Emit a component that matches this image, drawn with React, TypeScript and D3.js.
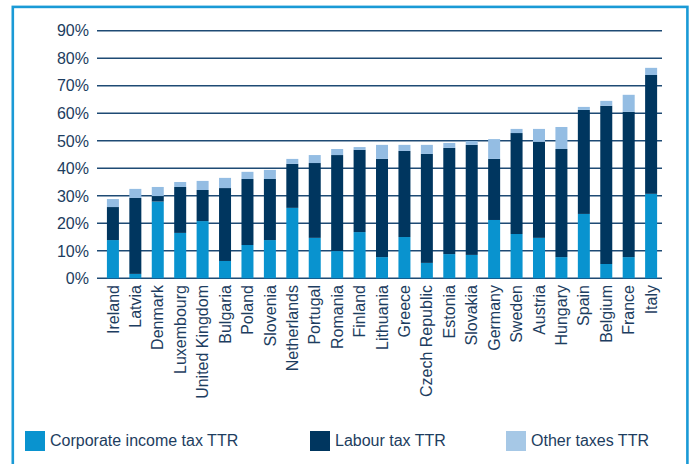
import React from "react";
import * as d3 from "d3";

const countries = [
  "Ireland", "Latvia", "Denmark", "Luxembourg", "United Kingdom", "Bulgaria", "Poland",
  "Slovenia", "Netherlands", "Portugal", "Romania", "Finland", "Lithuania", "Greece",
  "Czech Republic", "Estonia", "Slovakia", "Germany", "Sweden", "Austria", "Hungary",
  "Spain", "Belgium", "France", "Italy",
];
const corporateTTR = [13.9, 1.6, 27.9, 16.5, 20.8, 6.3, 12.1, 13.9, 25.6, 14.7, 9.9, 16.8, 7.7, 15.0, 5.6, 8.8, 8.5, 21.2, 16.1, 14.7, 7.7, 23.4, 5.2, 7.7, 30.7];
const labourTTR = [12.0, 27.6, 2.0, 16.7, 11.3, 26.5, 24.0, 22.2, 16.0, 27.2, 34.9, 29.9, 35.7, 31.3, 39.6, 38.6, 40.0, 22.2, 36.7, 34.9, 39.3, 37.8, 57.5, 52.8, 43.2];
const otherTTR = [2.9, 3.3, 3.3, 1.8, 3.3, 3.7, 2.6, 3.3, 1.8, 2.9, 2.2, 1.0, 5.1, 2.2, 3.3, 1.8, 1.4, 7.2, 1.5, 4.7, 8.0, 1.1, 1.8, 6.2, 2.6];
const seriesNames = ["Corporate income tax TTR", "Labour tax TTR", "Other taxes TTR"];
const yTicks = [0, 10, 20, 30, 40, 50, 60, 70, 80, 90];

const colors = ["#0993cf", "#00365f", "#94bde3"];
const legendColors = ["#0993cf", "#00365f", "#a6c8e6"];
const textColor = "#1d3d60";
const font = "'Liberation Sans', Arial, Helvetica, sans-serif";

export default function App() {
  const keys = ["corp", "labour", "other"];
  const rows = countries.map((c, i) => ({
    country: c,
    corp: corporateTTR[i],
    labour: labourTTR[i],
    other: otherTTR[i],
  }));
  const stacked = d3.stack<any>().keys(keys)(rows);

  const x = d3
    .scaleBand<string>()
    .domain(countries)
    .range([97, 662])
    .paddingInner(0.465)
    .paddingOuter(0.33)
    .align(0.67);
  const y = d3.scaleLinear().domain([0, 90]).range([278.3, 30.7]);

  const legendX = [25, 310, 506];

  return (
    <svg
      width={691}
      height={464}
      style={{ position: "absolute", left: 0, top: 0, background: "#fff" }}
      fontFamily={font}
    >
      <rect x={12.8} y={6.9} width={674.6} height={480} fill="#fff" stroke="#1a9ad6" strokeWidth={2.6} />
      {yTicks.map((t) => (
        <g key={t}>
          <line x1={97} x2={662} y1={y(t)} y2={y(t)} stroke="#1e4a74" strokeWidth={1.5} />
          <text x={89} y={y(t)} dy="0.36em" textAnchor="end" fontSize={16} fill={textColor}>
            {t}%
          </text>
        </g>
      ))}
      {stacked.map((s, si) => (
        <g key={s.key} fill={colors[si]}>
          {s.map((d: any, i: number) => (
            <rect
              key={i}
              x={x(countries[i])}
              width={x.bandwidth()}
              y={y(d[1])}
              height={y(d[0]) - y(d[1])}
            />
          ))}
        </g>
      ))}
      {countries.map((c) => (
        <text
          key={c}
          transform={`translate(${(x(c) as number) + x.bandwidth() / 2},285) rotate(-90)`}
          textAnchor="end"
          dy="0.35em"
          fontSize={16}
          fill={textColor}
        >
          {c}
        </text>
      ))}
      {seriesNames.map((n, i) => (
        <g key={n}>
          <rect x={legendX[i]} y={431} width={20} height={20} fill={legendColors[i]} />
          <text x={legendX[i] + 25} y={446} fontSize={16} fill={textColor}>
            {n}
          </text>
        </g>
      ))}
    </svg>
  );
}
